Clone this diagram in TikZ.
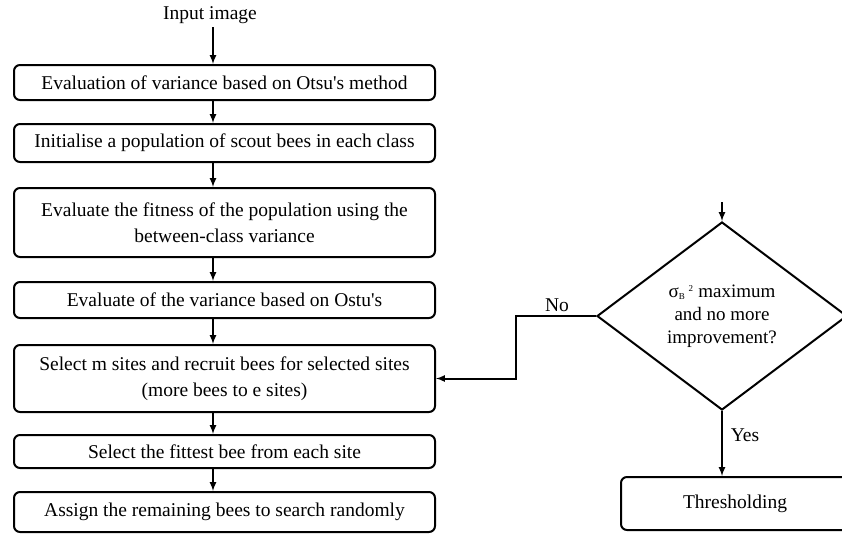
\documentclass[tikz,border=0pt]{standalone}
\usepackage{fontspec}
\setmainfont{Liberation Serif}
\usetikzlibrary{shapes.geometric,arrows,positioning,calc}

\tikzset{
	stepbox/.style={draw,rounded corners=6pt,line width=2pt,minimum width=421pt,align=center,inner sep=2pt},
	decbox/.style={draw,diamond,line width=2pt,minimum width=250pt,minimum height=188pt,inner sep=0pt,align=center,font=\fontsize{19}{23}\selectfont},
	flow/.style={-latex,line width=2pt}
}

\begin{document}
\begin{tikzpicture}[x=1pt,y=-1pt,font=\fontsize{19.5}{26}\selectfont]
		\clip (0,0) rectangle (842,533);
		\coordinate (arrx) at (213,0);
		\node (inp) at (210,15) {Input image};
		\node[stepbox,minimum height=35pt] (otsu) at (224.5,82.5) {Evaluation of variance based on Otsu\textquotesingle s method};
		\node[stepbox,minimum height=38pt] (init) at (224.5,143) {Initialise a population of scout bees in each class};
		\node[stepbox,minimum height=69pt] (fit) at (224.5,222.5) {Evaluate the fitness of the population using the\\between-class variance};
		\node[stepbox,minimum height=36pt] (var) at (224.5,300) {Evaluate of the variance based on Ostu\textquotesingle s};
		\node[stepbox,minimum height=67pt] (sel) at (224.5,378.5) {Select m sites and recruit bees for selected sites\\(more bees to e sites)};
		\node[stepbox,minimum height=33pt] (best) at (224.5,451.5) {Select the fittest bee from each site};
		\node[stepbox,minimum height=40pt] (rand) at (224.5,512) {Assign the remaining bees to search randomly};
		% decision and end
		\node[decbox] (dec) at (722,316) {σ\textsubscript{\fontsize{9}{9}\selectfont B}\,\textsuperscript{\fontsize{9}{9}\selectfont 2} maximum\\and no more\\improvement?};
		\node[stepbox,minimum width=228pt,minimum height=53pt] (thr) at (735,503.5) {Thresholding};
		\coordinate (decin) at (722,202);
		\node (no) at (557,305) {No};
		\node (yes) at (745,435) {Yes};
		% arrows
		\draw[flow] (inp.south -| arrx) -- (otsu.north -| arrx);
		\draw[flow] (otsu.south -| arrx) -- (init.north -| arrx);
		\draw[flow] (init.south -| arrx) -- (fit.north -| arrx);
		\draw[flow] (fit.south -| arrx) -- (var.north -| arrx);
		\draw[flow] (var.south -| arrx) -- (sel.north -| arrx);
		\draw[flow] (sel.south -| arrx) -- (best.north -| arrx);
		\draw[flow] (best.south -| arrx) -- (rand.north -| arrx);
		\draw[flow] (decin) -- (dec.north);
		\draw[flow] (dec.south) -- (dec.south |- thr.north);
		\draw[flow] (dec.west) -- ++(-80,0) |- (sel.east);
	\end{tikzpicture}
\end{document}
